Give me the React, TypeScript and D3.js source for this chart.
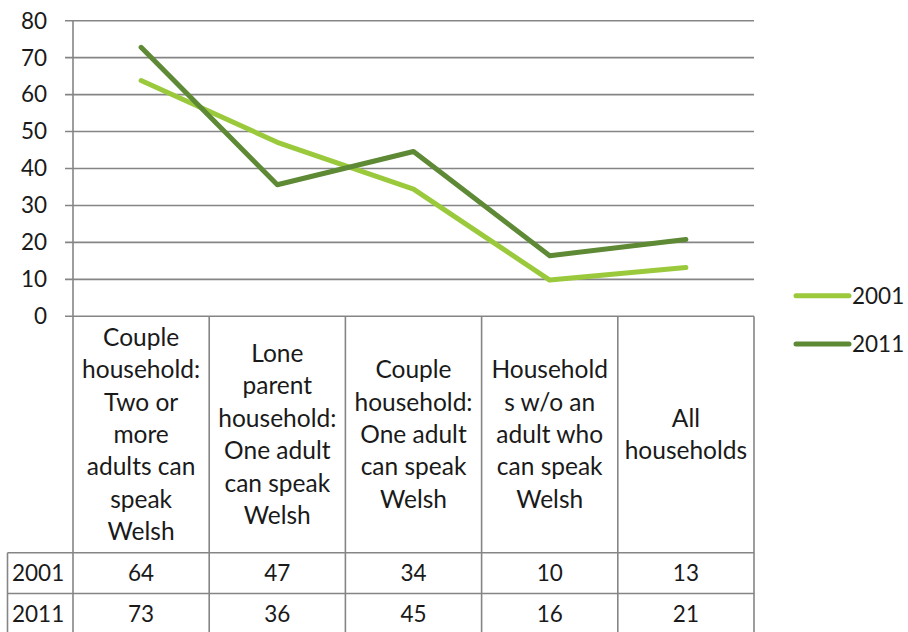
import React from 'react';
import { scaleBand, scaleLinear, line } from 'd3';

// chart data
const categories = [
	['Couple', 'household:', 'Two or', 'more', 'adults can', 'speak', 'Welsh'],
	['Lone', 'parent', 'household:', 'One adult', 'can speak', 'Welsh'],
	['Couple', 'household:', 'One adult', 'can speak', 'Welsh'],
	['Household', 's w/o an', 'adult who', 'can speak', 'Welsh'],
	['All', 'households'],
];
const seriesNames = ['2001', '2011'];
const values2001 = [63.8, 47.1, 34.4, 9.8, 13.2];
const values2011 = [72.8, 35.6, 44.6, 16.4, 20.8];
const yTicks = [0, 10, 20, 30, 40, 50, 60, 70, 80];

const colors = ['#9ACA3C', '#5E8935'];
const gridColor = '#858585';
const textColor = '#1a1a1a';
const font = 'Lato, "Noto Sans", sans-serif';
const fs = 24.5; // words
const fsNum = 22.5; // digits (Lato digits run wider than the original's)

export default function App() {
	const width = 908;
	const height = 632;
	const left = 73;
	const right = 754;
	const top = 20.7;
	const bottom = 316.3;

	const x = scaleBand<number>()
		.domain(categories.map((_, i) => i))
		.range([left, right]);
	const y = scaleLinear().domain([0, 80]).range([bottom, top]);

	const series = [values2001, values2011];
	const lineGen = line<number>()
		.x((_, i) => x(i)! + x.bandwidth() / 2)
		.y((d) => y(d));

	// table rows
	const catBottom = 552.7;
	const rowH = 40.8;
	const lineH = 32.4;
	const catMid = (bottom + catBottom) / 2;
	const tableLeft = 7.5;

	return (
		<div style={{ position: 'absolute', left: 0, top: 0 }}>
			<svg width={width} height={height} style={{ display: 'block', background: '#fff' }}>
				{/* gridlines + ticks */}
				{yTicks.map((t) => (
					<g key={t}>
						<line x1={65} x2={right} y1={y(t)} y2={y(t)} stroke={gridColor} strokeWidth={1.6} />
						<text
							x={47}
							y={y(t)}
							dy="0.35em"
							textAnchor="end"
							fontFamily={font}
							fontSize={fsNum}
							fill={textColor}>
							{t}
						</text>
					</g>
				))}
				{/* y axis, carried down through the table */}
				<line x1={left} x2={left} y1={top} y2={height} stroke={gridColor} strokeWidth={1.6} />

				{/* table borders */}
				{categories.map((_, i) => (
					<line
						key={i}
						x1={x(i)! + x.bandwidth()}
						x2={x(i)! + x.bandwidth()}
						y1={bottom}
						y2={height}
						stroke={gridColor}
						strokeWidth={1.6}
					/>
				))}
				{[catBottom, catBottom + rowH, catBottom + 2 * rowH].map((yy, i) => (
					<line key={i} x1={tableLeft} x2={right} y1={yy} y2={yy} stroke={gridColor} strokeWidth={1.6} />
				))}
				<line x1={tableLeft} x2={tableLeft} y1={catBottom} y2={height} stroke={gridColor} strokeWidth={1.6} />

				{/* category labels */}
				{categories.map((lines, i) => {
					const cx = x(i)! + x.bandwidth() / 2;
					const start = catMid - ((lines.length - 1) * lineH) / 2;
					return (
						<text key={i} textAnchor="middle" fontFamily={font} fontSize={fs} fill={textColor}>
							{lines.map((l, j) => (
								<tspan key={j} x={cx} y={start + j * lineH} dy="0.35em">
									{l}
								</tspan>
							))}
						</text>
					);
				})}

				{/* data rows */}
				{series.map((vals, s) => {
					const cy = catBottom + rowH * (s + 0.5);
					return (
						<g key={s}>
							<text x={12} y={cy} dy="0.35em" fontFamily={font} fontSize={fsNum} fill={textColor}>
								{seriesNames[s]}
							</text>
							{vals.map((v, i) => (
								<text
									key={i}
									x={x(i)! + x.bandwidth() / 2}
									y={cy}
									dy="0.35em"
									textAnchor="middle"
									fontFamily={font}
									fontSize={fsNum}
									fill={textColor}>
									{Math.round(v)}
								</text>
							))}
						</g>
					);
				})}

				{/* lines */}
				{series.map((vals, s) => (
					<path
						key={s}
						d={lineGen(vals)!}
						fill="none"
						stroke={colors[s]}
						strokeWidth={5}
						strokeLinecap="round"
						strokeLinejoin="round"
					/>
				))}

				{/* legend */}
				{seriesNames.map((name, s) => {
					const ly = 295.7 + s * 48.3;
					return (
						<g key={name}>
							<line x1={796} x2={849} y1={ly} y2={ly} stroke={colors[s]} strokeWidth={5} strokeLinecap="round" />
							<text x={852} y={ly} dy="0.35em" fontFamily={font} fontSize={fsNum} fill={textColor}>
								{name}
							</text>
						</g>
					);
				})}
			</svg>
		</div>
	);
}
